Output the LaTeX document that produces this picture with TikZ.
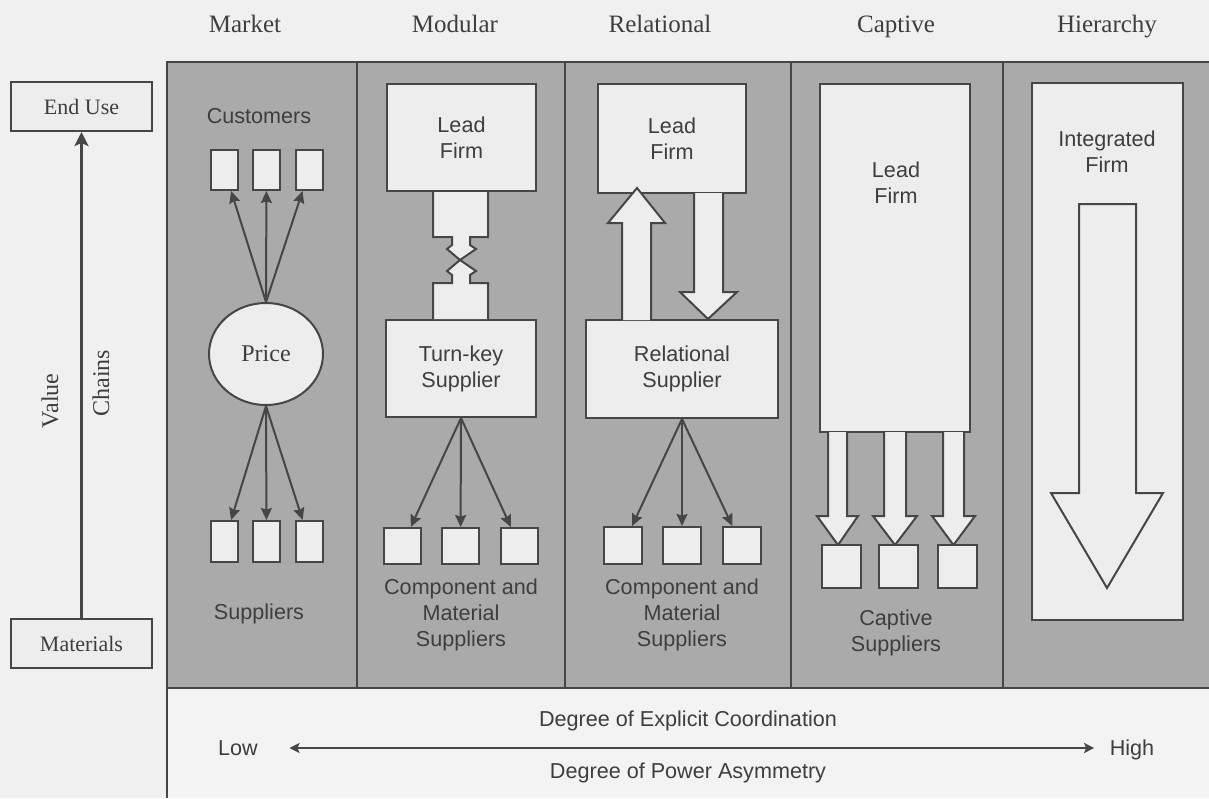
\documentclass[tikz,border=0pt]{standalone}
\usepackage{fontspec}
\setmainfont{Liberation Serif}
\setsansfont{Liberation Sans}
\usetikzlibrary{arrows.meta,shapes.geometric}
\definecolor{bgc}{RGB}{240,240,240}
\definecolor{stripc}{RGB}{243,243,243}
\definecolor{panelc}{RGB}{170,170,170}
\definecolor{boxc}{RGB}{237,237,237}
\definecolor{lnc}{RGB}{70,70,70}
\definecolor{txc}{RGB}{62,62,62}
\begin{document}
\begin{tikzpicture}[x=0.5pt,y=-0.5pt,line width=1pt,
  boxst/.style={draw=lnc,fill=boxc,inner sep=0pt},
  lbl/.style={font=\sffamily\fontsize{10.8}{13}\selectfont,text=txc,align=center},
  hdr/.style={font=\fontsize{12.5}{14}\selectfont,text=txc,anchor=base},
  sidebox/.style={boxst,font=\fontsize{11}{13}\selectfont,text=txc,minimum width=70.5pt,minimum height=24.5pt},
  arr/.style={draw=lnc,line width=1pt,-{Stealth[length=6pt,width=5.5pt,inset=0.8pt]}},
  blockarr/.style={draw=lnc,fill=boxc,line width=1pt,line join=miter},
  mkt/.style={boxst,minimum width=13.5pt,minimum height=20pt},
  mkb/.style={boxst,minimum width=13.5pt,minimum height=20.5pt},
  modb/.style={boxst,minimum width=18.5pt,minimum height=18pt},
  relb/.style={boxst,minimum width=19pt,minimum height=18.5pt},
  capb/.style={boxst,minimum width=19.5pt,minimum height=21.5pt}
]
\useasboundingbox (0,0) rectangle (1209,798);
\fill[bgc] (0,0) rectangle (1209,798);
\fill[panelc] (167,62) rectangle (1209,688);
\fill[stripc] (167,688) rectangle (1209,798);
\draw[lnc] (1209,62) -- (167,62) -- (167,798);
\draw[lnc] (167,688) -- (1209,688);
\foreach \xx in {357,565,791,1003} \draw[lnc] (\xx,62) -- (\xx,688);

% headers
\node[hdr] (hmarket) at (245,32) {Market};
\node[hdr] (hmodular) at (455,32) {Modular};
\node[hdr] (hrel) at (660,32) {Relational};
\node[hdr] (hcap) at (896,32) {Captive};
\node[hdr] (hhier) at (1107,32) {Hierarchy};

% left axis
\node[sidebox] (enduse) at (81.5,106.5) {End Use};
\node[sidebox] (materials) at (81.5,643.5) {Materials};
\draw[lnc,line width=1.6pt,-{Stealth[length=7pt,width=7pt,inset=1.5pt]}] (materials) -- (enduse);
\node[font=\fontsize{12}{14}\selectfont,text=txc,rotate=90] (value) at (50,401) {Value};
\node[font=\fontsize{12}{14}\selectfont,text=txc,rotate=90] (chains) at (101,383) {Chains};

% Market
\node[lbl] (cust) at (259,116) {Customers};
\node[mkt] (c1) at (224.5,170) {};
\node[mkt] (c2) at (266.5,170) {};
\node[mkt] (c3) at (309.5,170) {};
\node[boxst,ellipse,minimum width=57pt,minimum height=51pt,font=\fontsize{12}{14}\selectfont,text=txc] (price) at (266,354) {Price};
\node[mkb] (s1) at (224.5,541.5) {};
\node[mkb] (s2) at (266.5,541.5) {};
\node[mkb] (s3) at (309.5,541.5) {};
\node[lbl] (sup) at (259,614) {Suppliers};
\foreach \n in {c1,c2,c3} \draw[arr] (price.north) -- (\n);
\foreach \n in {s1,s2,s3} \draw[arr] (price.south) -- (\n);

% Modular
\node[boxst,lbl,minimum width=74.5pt,minimum height=53.5pt] (mlead) at (461.5,137.5) {Lead\\Firm};
\node[boxst,lbl,minimum width=75pt,minimum height=48.5pt] (tk) at (461,368.5) {Turn-key\\Supplier};
\path[blockarr] (433,192) -- (433,237) -- (452,237) -- (452,245) -- (447,249) -- (460,260) -- (476,249) -- (470,245) -- (470,237) -- (488,237) -- (488,192);
\path[blockarr] (433,319) -- (433,283) -- (452,283) -- (452,275) -- (447,271) -- (460,260) -- (476,271) -- (470,275) -- (470,283) -- (488,283) -- (488,319);
\node[modb] (m1) at (402,546) {};
\node[modb] (m2) at (460.5,546) {};
\node[modb] (m3) at (519.5,546) {};
\foreach \n in {m1,m2,m3} \draw[arr] (tk.south) -- (\n);
\node[lbl] (mcomp) at (461,615) {Component and\\Material\\Suppliers};

% Relational
\node[boxst,lbl,minimum width=74pt,minimum height=54.5pt] (rlead) at (672,138.5) {Lead\\Firm};
\node[boxst,lbl,minimum width=96pt,minimum height=49pt] (rsup) at (682,369) {Relational\\Supplier};
\path[blockarr] (622,320) -- (622,223) -- (608,223) -- (637,188) -- (665,223) -- (651,223) -- (651,320);
\path[blockarr] (694,193) -- (694,292) -- (680,292) -- (708,319) -- (737,292) -- (723,292) -- (723,193);
\node[relb] (r1) at (623,545.5) {};
\node[relb] (r2) at (682,545.5) {};
\node[relb] (r3) at (741.5,545.5) {};
\foreach \n in {r1,r2,r3} \draw[arr] (rsup.south) -- (\n);
\node[lbl] (rcomp) at (682,615) {Component and\\Material\\Suppliers};

% Captive
\node[boxst,minimum width=75pt,minimum height=174pt] (clead) at (895,258) {};
\node[lbl] (cleadtxt) at (896,183) {Lead\\Firm};
\path[blockarr] (828,432) -- (828,516) -- (817,516) -- (838,545) -- (858,516) -- (847,516) -- (847,432);
\path[blockarr] (884,432) -- (884,516) -- (873,516) -- (895,545) -- (917,516) -- (906,516) -- (906,432);
\path[blockarr] (943,432) -- (943,516) -- (932,516) -- (953.5,545) -- (975,516) -- (964,516) -- (964,432);
\node[capb] (k1) at (841.5,566.5) {};
\node[capb] (k2) at (898.5,566.5) {};
\node[capb] (k3) at (957.5,566.5) {};
\node[lbl] (csup) at (896,633) {Captive\\Suppliers};

% Hierarchy
\node[boxst,minimum width=75.5pt,minimum height=268.5pt] (hfirm) at (1107.5,351.5) {};
\node[lbl] (hfirmtxt) at (1107,152) {Integrated\\Firm};
\path[blockarr] (1079,204) -- (1079,493) -- (1051,493) -- (1107,588) -- (1163,493) -- (1136,493) -- (1136,204) -- cycle;

% bottom strip
\node[lbl] (dec) at (688,721) {Degree of Explicit Coordination};
\node[lbl,anchor=base] (low) at (238,755) {Low};
\node[lbl,anchor=base] (high) at (1132,755) {High};
\node[lbl] (dpa) at (688,773) {Degree of Power Asymmetry};
\path (low.base east) ++(12pt,-7) coordinate (lowtip);
\path (high.base west) ++(-4pt,-7) coordinate (hightip);
\draw[lnc,line width=1.1pt,{Stealth[length=5pt,width=5pt,inset=1pt]}-{Stealth[length=5pt,width=5pt,inset=1pt]}] (lowtip) -- (hightip);
\end{tikzpicture}
\end{document}
